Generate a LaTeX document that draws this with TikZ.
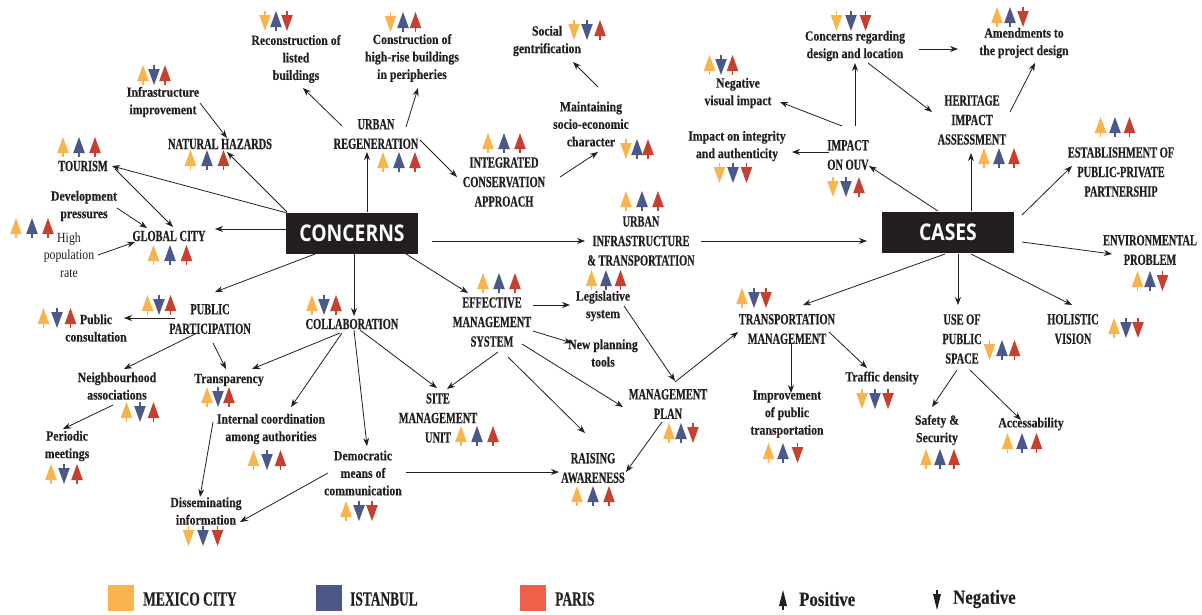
\documentclass[tikz,border=0pt]{standalone}
\usepackage{fontspec}
\usetikzlibrary{arrows.meta}
\newfontfamily\capfont[FakeStretch=0.67,FakeBold=0.4]{Liberation Serif}
\newfontfamily\lowfont[FakeStretch=0.84,FakeBold=0.3]{Liberation Serif}
\newfontfamily\regfont[FakeStretch=0.84]{Liberation Serif}
\newfontfamily\boxfont[FakeStretch=0.84]{Open Sans}
\definecolor{ink}{HTML}{231F20}
\definecolor{mx}{HTML}{F9B34F}
\definecolor{ist}{HTML}{4B5888}
\definecolor{par}{HTML}{C5402F}
\definecolor{parlg}{HTML}{EE6049}
% small arrow icons: up = positive, down = negative
\newcommand\icup[3]{\fill[#3] (#1-5.8,#2+6) -- (#1,#2-10) -- (#1+5.8,#2+6) -- cycle;
  \fill[#3] (#1-0.9,#2+5) rectangle (#1+0.9,#2+10);}
\newcommand\icdn[3]{\fill[#3] (#1-5.8,#2-6) -- (#1,#2+10) -- (#1+5.8,#2-6) -- cycle;
  \fill[#3] (#1-0.9,#2-5) rectangle (#1+0.9,#2-10);}
\newcommand\iconat[4]{\csname ic#1\endcsname{#2}{#3}{#4}}
% three city icons: middle x, y, spacing, directions for Mexico City, Istanbul, Paris
\newcommand\trio[6]{\iconat{#4}{#1-#3}{#2}{mx}\iconat{#5}{#1}{#2}{ist}\iconat{#6}{#1+#3}{#2}{par}}
\newcommand\link[6]{\draw[arr] ([shift={(#2,#3)}]#1.center) -- ([shift={(#5,#6)}]#4.center);}
\begin{document}
\begin{tikzpicture}[x=1pt,y=-1pt,
  capl/.style={font=\capfont\bfseries\fontsize{15.5}{19.5}\selectfont, align=center, text=ink, inner sep=1pt},
  lowl/.style={font=\lowfont\bfseries\fontsize{14}{17.5}\selectfont, align=center, text=ink, inner sep=1pt},
  regl/.style={font=\regfont\fontsize{14}{17.5}\selectfont, align=center, text=ink, inner sep=1pt},
  hub/.style={fill=ink, text=white, font=\boxfont\bfseries\fontsize{23}{23}\selectfont,
    minimum width=132pt, minimum height=41pt, inner sep=0pt},
  legtxt/.style={font=\capfont\bfseries\fontsize{20}{20}\selectfont, text=ink, anchor=west, inner sep=0pt},
  legtxtl/.style={font=\lowfont\bfseries\fontsize{20}{20}\selectfont, text=ink, anchor=west, inner sep=0pt},
  arr/.style={draw=ink, line width=0.8pt, -{Stealth[length=8pt,width=6pt]}}]
\useasboundingbox (0,0) rectangle (1202,614);
\fill[white] (0,0) rectangle (1202,614);

% hubs
\node[hub] (con) at (352,233) {CONCERNS};
\node[hub] (cas) at (948,232) {CASES};

% concerns side
\node[capl] (tour) at (83,166) {TOURISM};
\node[capl] (nat) at (220,144) {NATURAL HAZARDS};
\node[capl] (glob) at (169,236) {GLOBAL CITY};
\node[capl] (urb) at (376,134) {URBAN\\REGENERATION};
\node[capl] (icap) at (504,182) {INTEGRATED\\CONSERVATION\\APPROACH};
\node[capl] (uit) at (641,241) {URBAN\\INFRASTRUCTURE\\\& TRANSPORTATION};
\node[lowl] (leg) at (603,306) {Legislative\\system};
\node[capl] (ems) at (492,322) {EFFECTIVE\\MANAGEMENT\\SYSTEM};
\node[lowl] (npt) at (603,353) {New planning\\tools};
\node[capl] (smu) at (438,418) {SITE\\MANAGEMENT\\UNIT};
\node[capl] (raw) at (593,468) {RAISING\\AWARENESS};
\node[capl] (mpl) at (668,404) {MANAGEMENT\\PLAN};
\node[lowl] (ii) at (163,102) {Infrastructure\\improvement};
\node[lowl] (rlb) at (296,59) {Reconstruction of\\listed\\buildings};
\node[lowl] (chr) at (412,58) {Construction of\\high-rise buildings\\in peripheries};
\node[lowl] (sg) at (547,41) {Social\\gentrification};
\node[lowl] (msc) at (591,124) {Maintaining\\socio-economic\\character};
\node[lowl] (dp) at (84,206) {Development\\pressures};
\node[regl] (hpr) at (69,255) {High\\population\\rate};
\node[capl] (pp) at (210,319) {PUBLIC\\PARTICIPATION};
\node[lowl] (pc) at (96,328) {Public\\consultation};
\node[capl] (col) at (352,324) {COLLABORATION};
\node[lowl] (na) at (117,386) {Neighbourhood\\associations};
\node[lowl] (tr) at (229,380) {Transparency};
\node[lowl] (pm) at (67,446) {Periodic\\meetings};
\node[lowl] (ic) at (271,429) {Internal coordination\\among authorities};
\node[lowl] (dm) at (363,473) {Democratic\\means of\\communication};
\node[lowl] (di) at (206,511) {Disseminating\\information};

% cases side
\node[capl] (tm) at (787,329) {TRANSPORTATION\\MANAGEMENT};
\node[lowl] (ipt) at (787,414) {Improvement\\of public\\transportation};
\node[lowl] (tdn) at (882,378) {Traffic density};
\node[capl] (ups) at (962,339) {USE OF\\PUBLIC\\SPACE};
\node[capl] (hol) at (1073,329) {HOLISTIC\\VISION};
\node[lowl] (saf) at (937,430) {Safety \&\\Security};
\node[lowl] (acc) at (1031,424) {Accessability};
\node[capl] (env) at (1150,250) {ENVIRONMENTAL\\PROBLEM};
\node[capl] (ppp) at (1121,172) {ESTABLISHMENT OF\\PUBLIC-PRIVATE\\PARTNERSHIP};
\node[capl] (hia) at (972,120) {HERITAGE\\IMPACT\\ASSESSMENT};
\node[capl] (ouv) at (848,155) {IMPACT\\ON OUV};
\node[lowl] (iia) at (737,146) {Impact on integrity\\and authenticity};
\node[lowl] (nvi) at (738,93) {Negative\\visual impact};
\node[lowl] (crd) at (855,46) {Concerns regarding\\design and location};
\node[lowl] (amd) at (1024,43) {Amendments to\\the project design};

% connectors from CONCERNS
\link{con}{-65}{-20}{tour}{29}{0}
\link{con}{-65}{-21}{nat}{7}{8}
\link{con}{-65}{-4}{glob}{46}{-7}
\link{con}{-37}{21}{pp}{5}{-27}
\link{con}{2}{21}{col}{2}{-8}
\link{con}{54}{21}{ems}{-24}{-29}
\link{con}{15}{-21}{urb}{-9}{18}
\link{con}{80}{8}{uit}{-56}{0}
\link{uit}{60}{0}{cas}{-81}{9}
\link{tour}{32}{3}{glob}{4}{-9}
\link{dp}{33}{2}{glob}{-22}{-8}
\link{hpr}{29}{0}{glob}{-34}{6}
\link{ii}{37}{1}{nat}{7}{-6}
\link{urb}{-34}{-8}{rlb}{7}{29}
\link{urb}{30}{-7}{chr}{6}{30}
\link{urb}{44}{6}{icap}{-47}{-5}
\link{icap}{56}{-5}{msc}{7}{28}
\link{msc}{7}{-37}{sg}{26}{21}
\link{ems}{41}{-17}{leg}{-33}{-1}
\link{ems}{41}{9}{npt}{-31}{-10}
\link{ems}{6}{30}{smu}{9}{-29}
\link{ems}{16}{35}{raw}{-8}{-35}
\link{ems}{30}{22}{mpl}{-45}{3}
\link{leg}{21}{0}{mpl}{7}{-23}
\link{mpl}{7}{-22}{tm}{-49}{3}
\link{mpl}{-6}{18}{raw}{33}{4}
\link{col}{8}{6}{smu}{-1}{-30}
\link{dm}{43}{-1}{raw}{-34}{4}
\link{col}{-12}{9}{tr}{23}{-11}
\link{col}{-10}{9}{ic}{20}{-22}
\link{col}{2}{6}{dm}{4}{-27}
\link{pp}{-35}{-1}{pc}{28}{-10}
\link{pp}{-13}{14}{na}{7}{-17}
\link{pp}{3}{24}{tr}{-3}{-11}
\link{na}{-4}{19}{pm}{-4}{-17}
\link{ic}{-58}{-7}{di}{-6}{-14}
\link{dm}{-35}{0}{di}{34}{11}

% connectors from CASES
\link{cas}{-10}{-21}{ouv}{21}{11}
\link{cas}{23}{-21}{hia}{-1}{33}
\link{cas}{74}{-17}{ppp}{-49}{-6}
\link{cas}{74}{10}{env}{-38}{4}
\link{cas}{-3}{22}{tm}{16}{-24}
\link{cas}{10}{22}{ups}{-4}{-34}
\link{cas}{23}{22}{hol}{-1}{-24}
\link{ouv}{-19}{-3}{iia}{55}{6}
\link{ouv}{-6}{-29}{nvi}{42}{9}
\link{ouv}{7}{-29}{crd}{0}{17}
\link{crd}{64}{3}{amd}{-66}{6}
\link{crd}{13}{17}{hia}{-40}{-8}
\link{hia}{38}{-8}{amd}{11}{20}
\link{tm}{4}{14}{ipt}{4}{-21}
\link{tm}{42}{3}{tdn}{-15}{-10}
\link{ups}{-5}{31}{saf}{-5}{-23}
\link{ups}{8}{31}{acc}{-10}{-4}

% city assessments
\trio{276}{21}{11}{dn}{up}{dn}
\trio{403}{22}{12.5}{dn}{up}{up}
\trio{587}{30}{13}{dn}{dn}{up}
\trio{154}{75}{11}{up}{dn}{up}
\trio{207}{160}{16.5}{up}{up}{up}
\trio{79}{147}{16}{up}{up}{up}
\trio{170}{255}{16.5}{up}{up}{up}
\trio{32}{228}{16}{up}{up}{up}
\trio{399}{162}{16}{up}{up}{up}
\trio{504}{143}{16}{up}{up}{up}
\trio{637}{149}{11}{dn}{up}{up}
\trio{642}{201}{16}{up}{up}{up}
\trio{606}{280}{14.5}{up}{up}{up}
\trio{499}{283}{16}{up}{up}{up}
\trio{477}{436}{16}{up}{up}{up}
\trio{593}{496}{16}{up}{up}{up}
\trio{681}{433}{12}{up}{up}{dn}
\trio{754}{298}{12}{up}{dn}{dn}
\trio{783}{453}{14.5}{up}{up}{dn}
\trio{875}{399}{13}{dn}{dn}{dn}
\trio{1002}{350}{12.5}{dn}{up}{up}
\trio{1126}{328}{12}{up}{dn}{dn}
\trio{940}{459}{14}{up}{up}{up}
\trio{1022}{443}{14.5}{up}{up}{up}
\trio{159}{305}{11.5}{up}{dn}{up}
\trio{57}{318}{13.5}{up}{dn}{up}
\trio{324}{305}{12}{up}{dn}{up}
\trio{140}{412}{13.5}{up}{dn}{up}
\trio{218}{397}{11}{up}{dn}{up}
\trio{64}{474}{13}{up}{dn}{up}
\trio{267}{460}{13.5}{up}{dn}{up}
\trio{359}{511}{13}{up}{dn}{dn}
\trio{203}{536}{14.5}{dn}{dn}{dn}
\trio{851}{21}{14.5}{dn}{dn}{dn}
\trio{1010}{17}{13}{up}{up}{dn}
\trio{721}{65}{11.5}{up}{dn}{up}
\trio{733}{173}{13.5}{dn}{dn}{dn}
\trio{846}{187}{13}{dn}{dn}{up}
\trio{999}{158}{15}{up}{up}{up}
\trio{1115}{127}{14.5}{up}{up}{up}
\trio{1150}{281}{12.5}{up}{up}{dn}

% legend
\fill[mx] (108,585) rectangle (134,611);
\node[legtxt] (lgmx) at (143,599) {MEXICO CITY};
\fill[ist] (316,585) rectangle (342,611);
\node[legtxt] (lgist) at (350,599) {ISTANBUL};
\fill[parlg] (520,585) rectangle (546,611);
\node[legtxt] (lgpar) at (555,599) {PARIS};
\fill[ink] (779,606) -- (783,590) -- (787,606) -- cycle;
\fill[ink] (782.2,604) rectangle (783.8,610);
\node[legtxtl] (lgpos) at (799,599) {Positive};
\fill[ink] (933,594) -- (937,610) -- (941,594) -- cycle;
\fill[ink] (936.2,590) rectangle (937.8,596);
\node[legtxtl] (lgneg) at (953,599) {Negative};
\end{tikzpicture}
\end{document}
